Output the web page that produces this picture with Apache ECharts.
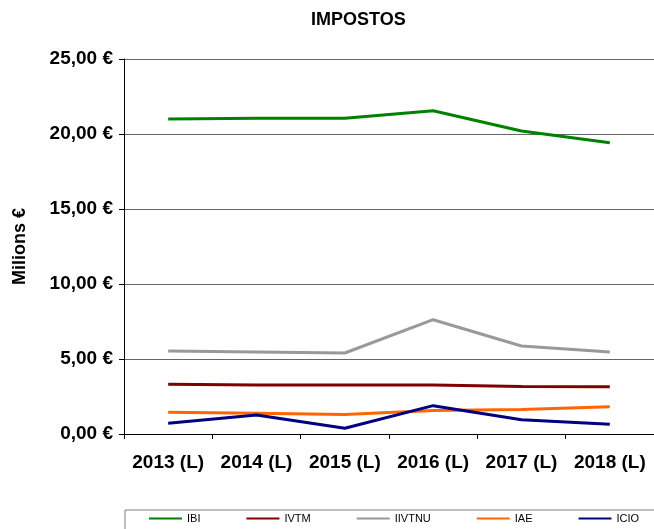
<!DOCTYPE html>
<html>
<head>
<meta charset="utf-8">
<script src="https://cdn.jsdelivr.net/npm/echarts@6/dist/echarts.min.js"></script>
<style>
  html, body { margin: 0; padding: 0; background: #fff; }
  #chartImpostos { width: 654px; height: 529px; }
</style>
</head>
<body>
<div id="chartImpostos"></div>
<script>
  // anys (L = liquidat)
  var anys = ['2013 (L)', '2014 (L)', '2015 (L)', '2016 (L)', '2017 (L)', '2018 (L)'];

  // milions d'euros
  var dataIBI = [21.0, 21.05, 21.05, 21.55, 20.2, 19.42];
  var dataIVTM = [3.32, 3.26, 3.26, 3.26, 3.17, 3.15];
  var dataIIVTNU = [5.54, 5.47, 5.4, 7.62, 5.87, 5.47];
  var dataIAE = [1.45, 1.39, 1.3, 1.57, 1.64, 1.82];
  var dataICIO = [0.71, 1.27, 0.38, 1.89, 0.95, 0.65];

  var font = 'Liberation Sans, Arial, sans-serif';

  function serie(name, data, color) {
    return {
      name: name,
      type: 'line',
      data: data,
      symbol: 'none',
      smooth: false,
      animation: false,
      lineStyle: { color: color, width: 3 },
      itemStyle: { color: color }
    };
  }

  var chart = echarts.init(document.getElementById('chartImpostos'));
  chart.setOption({
    textStyle: { fontFamily: font },
    title: {
      text: 'IMPOSTOS',
      left: 311,
      top: 11,
      padding: 0,
      textStyle: { fontSize: 18, fontWeight: 'bold', color: '#000', fontFamily: font }
    },
    legend: {
      data: ['IBI', 'IVTM', 'IIVTNU', 'IAE', 'ICIO'],
      left: 125,
      top: 510,
      width: 600,
      orient: 'horizontal',
      padding: [3, 40, 20, 24],
      borderColor: '#808080',
      borderWidth: 1,
      itemWidth: 33,
      itemHeight: 14,
      itemGap: 46,
      icon: 'path://M0,6 L33,6 L33,8 L0,8 Z',
      textStyle: { fontSize: 11, color: '#000', fontFamily: font }
    },
    grid: {
      left: 124,
      top: 59,
      width: 538,
      height: 375,
      containLabel: false
    },
    xAxis: {
      type: 'category',
      data: anys,
      boundaryGap: true,
      axisLine: { lineStyle: { color: '#000', width: 1 } },
      axisTick: { show: true, length: 5, lineStyle: { color: '#000' } },
      axisLabel: {
        interval: 0,
        hideOverlap: false,
        margin: 19,
        fontSize: 19,
        fontWeight: 'bold',
        color: '#000',
        fontFamily: font
      },
      splitLine: { show: false }
    },
    yAxis: {
      type: 'value',
      min: 0,
      max: 25,
      interval: 5,
      name: 'Milions €',
      nameLocation: 'middle',
      nameGap: 95,
      nameRotate: 90,
      nameTextStyle: { fontSize: 18, fontWeight: 'bold', color: '#000', fontFamily: font },
      axisLine: { show: true, lineStyle: { color: '#000', width: 1 } },
      axisTick: { show: true, length: 5, lineStyle: { color: '#000' } },
      axisLabel: {
        margin: 11,
        fontSize: 19,
        fontWeight: 'bold',
        color: '#000',
        fontFamily: font,
        formatter: function (v) {
          return v.toFixed(2).replace('.', ',') + ' €';
        }
      },
      splitLine: { show: true, lineStyle: { color: '#666', width: 1 } }
    },
    series: [
      serie('IBI', dataIBI, '#008000'),
      serie('IVTM', dataIVTM, '#800000'),
      serie('IIVTNU', dataIIVTNU, '#999999'),
      serie('IAE', dataIAE, '#FF6600'),
      serie('ICIO', dataICIO, '#000080')
    ]
  });
</script>
</body>
</html>
